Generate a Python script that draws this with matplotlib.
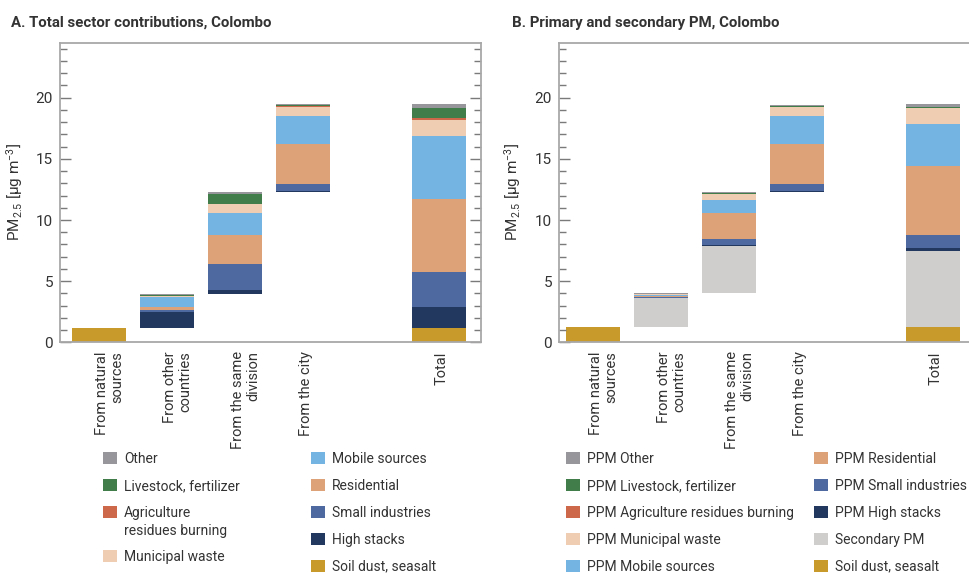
import matplotlib
matplotlib.use("Agg")
import matplotlib.pyplot as plt
from matplotlib.patches import Patch
from matplotlib.transforms import offset_copy
import numpy as np

plt.rcParams["font.family"] = ["Roboto", "DejaVu Sans"]
plt.rcParams["mathtext.default"] = "regular"

# Columns of the waterfall (natural, other countries, same division, city, total)
columns = ["From natural\nsources", "From other\ncountries", "From the same\ndivision",
           "From the city", "Total"]
positions = [0, 1, 2, 3, 5]

# Panel A: total sector contributions [ug/m3]
a_soil = [1.17, 0, 0, 0, 1.17]
a_high = [0, 1.31, 0.33, 0.10, 1.71]
a_small = [0, 0.16, 2.12, 0.58, 2.86]
a_resid = [0, 0.22, 2.37, 3.25, 5.96]
a_mobile = [0, 0.82, 1.80, 2.34, 5.14]
a_municipal = [0, 0.08, 0.73, 0.73, 1.36]
a_agri = [0, 0.02, 0.06, 0.02, 0.11]
a_livestock = [0, 0.06, 0.76, 0.08, 0.82]
a_other = [0, 0.10, 0.16, 0.09, 0.33]

# Panel B: primary and secondary PM [ug/m3]
b_soil = [1.25, 0, 0, 0, 1.25]
b_secondary = [0, 2.35, 3.84, 0, 6.20]
b_high = [0, 0.06, 0.08, 0.10, 0.25]
b_small = [0, 0.03, 0.46, 0.57, 1.06]
b_resid = [0, 0.10, 2.15, 3.25, 5.63]
b_mobile = [0, 0.05, 1.04, 2.34, 3.43]
b_municipal = [0, 0.08, 0.51, 0.73, 1.31]
b_agri = [0, 0.05, 0.04, 0.01, 0.04]
b_livestock = [0, 0.02, 0.05, 0.05, 0.06]
b_other = [0, 0.04, 0.08, 0.08, 0.27]

c_other = "#97979b"
c_livestock = "#417d4b"
c_agri = "#cd684b"
c_municipal = "#eecdb3"
c_mobile = "#74b4e2"
c_resid = "#dda277"
c_small = "#4e69a0"
c_high = "#22385f"
c_soil = "#c89a2c"
c_secondary = "#cfcecd"

TXT = "#333333"
LEG_FS = 10
W, H = 970, 573
fig = plt.figure(figsize=(W / 100, H / 100), dpi=100)


def fx(px):
    return px / W


def fy(py):
    return 1 - py / H


def draw_panel(ax, series, colors, xlim, ylabel_x):
    stack = np.array(series, dtype=float)
    col_tot = stack.sum(axis=0)
    bottom = np.zeros(len(positions))
    bottom[1:4] = np.cumsum(col_tot[:3])
    for vals, c in zip(stack, colors):
        ax.bar(positions, vals, width=0.8, bottom=bottom, color=c, linewidth=0)
        bottom = bottom + vals

    ax.set_xlim(*xlim)
    ax.set_ylim(0, 24.5)
    ax.set_yticks([0, 5, 10, 15, 20])
    ax.set_yticks(range(0, 25), minor=True)
    ax.tick_params(axis="y", which="both", direction="in", left=True, right=True,
                   color="#7a7a7a", width=1, labelsize=11, labelcolor=TXT, pad=5)
    ax.tick_params(axis="y", which="major", length=8)
    ax.tick_params(axis="y", which="minor", length=5)
    ax.tick_params(axis="x", bottom=False, labelbottom=False)
    for sp in ax.spines.values():
        sp.set_color("#a8a8a8")
        sp.set_linewidth(1.3)

    ax.set_ylabel(r"PM$_{2.5}$ [µg m$^{-3}$]", fontsize=11, color=TXT)
    ax.yaxis.set_label_coords(ylabel_x, 0.5)

    trans = offset_copy(ax.get_xaxis_transform(), fig=fig, x=-4, y=-9, units="dots")
    for x, lab in zip(positions, columns):
        ax.text(x, 0, lab, transform=trans, rotation=90, rotation_mode="anchor",
                ha="right", va="top", multialignment="right", fontsize=10.5,
                color=TXT, linespacing=1.1)


def add_legend(names, colors, x_px, y_px):
    handles = [Patch(facecolor=c, edgecolor="none") for c in colors]
    leg = fig.legend(handles, names, loc="upper left", bbox_to_anchor=(fx(x_px), fy(y_px)),
                     frameon=False, fontsize=LEG_FS, borderpad=0, borderaxespad=0,
                     handlelength=1.0, handleheight=1.0, handletextpad=0.5,
                     labelspacing=0.93)
    for t in leg.get_texts():
        t.set_color(TXT)
    return leg


# Panel A
ax_a = fig.add_axes([fx(60), fy(342.3), fx(421), 299.6 / H])
draw_panel(ax_a,
           [a_soil, a_high, a_small, a_resid, a_mobile, a_municipal, a_agri, a_livestock, a_other],
           [c_soil, c_high, c_small, c_resid, c_mobile, c_municipal, c_agri, c_livestock, c_other],
           (-0.574, 5.62), -0.083)
fig.text(fx(11), fy(27), "A. Total sector contributions, Colombo", fontsize=10.8,
         fontweight="bold", color=TXT, va="baseline")
add_legend(["Other", "Livestock, fertilizer", "Agriculture"],
           [c_other, c_livestock, c_agri], 103, 452)
fig.text(fx(124), fy(531), "residues burning", fontsize=LEG_FS, color=TXT,
         ha="left", va="center")
add_legend(["Municipal waste"], [c_municipal], 103, 550)
add_legend(["Mobile sources", "Residential", "Small industries", "High stacks", "Soil dust, seasalt"],
           [c_mobile, c_resid, c_small, c_high, c_soil], 311, 452)

# Panel B (right edge runs past the figure, as in the source)
ax_b = fig.add_axes([fx(559), fy(342.3), fx(440), 299.6 / H])
draw_panel(ax_b,
           [b_soil, b_secondary, b_high, b_small, b_resid, b_mobile, b_municipal, b_agri,
            b_livestock, b_other],
           [c_soil, c_secondary, c_high, c_small, c_resid, c_mobile, c_municipal, c_agri,
            c_livestock, c_other],
           (-0.5, -0.5 + 440 / 68), -0.082)
fig.text(fx(512), fy(27), "B. Primary and secondary PM, Colombo", fontsize=10.8,
         fontweight="bold", color=TXT, va="baseline")
add_legend(["PPM Other", "PPM Livestock, fertilizer", "PPM Agriculture residues burning",
            "PPM Municipal waste", "PPM Mobile sources"],
           [c_other, c_livestock, c_agri, c_municipal, c_mobile], 566, 452)
add_legend(["PPM Residential", "PPM Small industries", "PPM High stacks", "Secondary PM",
            "Soil dust, seasalt"],
           [c_resid, c_small, c_high, c_secondary, c_soil], 814, 452)

fig.savefig("out.png", dpi=100)
plt.close(fig)
